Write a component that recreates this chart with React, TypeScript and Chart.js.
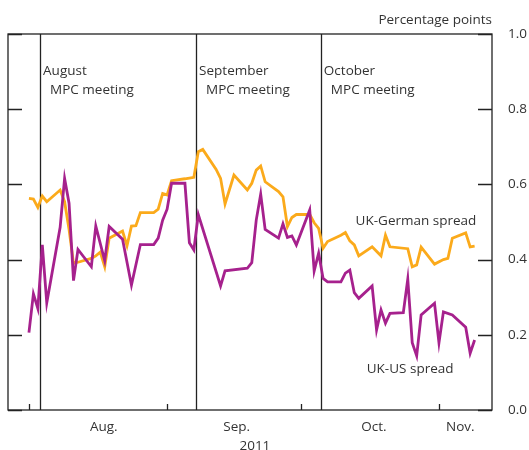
import React, { useEffect, useRef } from 'react';
import { Chart, registerables } from 'chart.js';

Chart.register(...registerables);

// Days counted from 1 August 2011 (day 0)
const ukUsDays = [0, 1, 2, 3, 4, 7, 8, 9, 10, 11, 14, 15, 17, 18, 21, 23, 25, 28, 29, 30, 31, 32, 35, 36, 37, 38, 43, 44, 49, 50, 51, 52, 53, 56, 57, 58, 59, 60, 63, 64, 65, 66, 67, 70, 71, 72, 73, 74, 77, 78, 79, 80, 81, 84, 85, 86, 87, 88, 91, 92, 93, 95, 98, 99, 100];
const ukUsValues = [0.206, 0.309, 0.27, 0.439, 0.285, 0.486, 0.616, 0.55, 0.344, 0.427, 0.381, 0.489, 0.397, 0.488, 0.454, 0.332, 0.44, 0.44, 0.457, 0.505, 0.534, 0.603, 0.603, 0.445, 0.426, 0.52, 0.33, 0.37, 0.377, 0.392, 0.505, 0.574, 0.48, 0.457, 0.495, 0.459, 0.463, 0.439, 0.532, 0.37, 0.417, 0.35, 0.341, 0.341, 0.364, 0.372, 0.312, 0.297, 0.33, 0.213, 0.266, 0.231, 0.257, 0.259, 0.348, 0.179, 0.144, 0.253, 0.284, 0.179, 0.261, 0.253, 0.22, 0.151, 0.186];

const ukGermanDays = [0, 1, 2, 3, 4, 7, 8, 9, 10, 11, 14, 15, 16, 17, 18, 21, 22, 23, 24, 25, 28, 29, 30, 31, 32, 35, 36, 37, 38, 39, 42, 43, 44, 46, 49, 50, 51, 52, 53, 56, 57, 58, 59, 60, 63, 64, 65, 66, 67, 70, 71, 72, 73, 74, 77, 79, 80, 81, 85, 86, 87, 88, 91, 93, 94, 95, 98, 99, 100];
const ukGermanValues = [0.563, 0.561, 0.539, 0.569, 0.554, 0.585, 0.554, 0.48, 0.39, 0.393, 0.403, 0.41, 0.42, 0.381, 0.457, 0.476, 0.437, 0.489, 0.49, 0.525, 0.525, 0.534, 0.576, 0.572, 0.61, 0.615, 0.617, 0.619, 0.687, 0.693, 0.64, 0.616, 0.548, 0.625, 0.585, 0.603, 0.638, 0.649, 0.607, 0.581, 0.567, 0.488, 0.512, 0.52, 0.52, 0.498, 0.483, 0.43, 0.448, 0.465, 0.472, 0.45, 0.439, 0.41, 0.434, 0.41, 0.465, 0.434, 0.429, 0.381, 0.386, 0.433, 0.388, 0.4, 0.403, 0.457, 0.471, 0.434, 0.436];

const yTicks = [0, 0.2, 0.4, 0.6, 0.8, 1.0];
const monthStartDays = [0, 31, 61, 92];
const monthLabels = ['Aug.', 'Sep.', 'Oct.', 'Nov.'];
const monthLabelDays = [16.8, 46.6, 77.4, 96.8];
const yearLabel = '2011';
const yearLabelDay = 50.7;

const mpcDays = [2.5, 37.5, 65.5];
const mpcLabels = ['August', 'September', 'October'];

const X_MIN = -4.7;
const X_MAX = 103.9;

const PURPLE = '#A6218D';
const ORANGE = '#FBAA1B';
const TEXT = '#333333';
const AXIS = '#222222';
const FONT = '"Open Sans", sans-serif';
const FONT_SIZE = 13.5;

const decorPlugin = {
  id: 'decor',
  beforeDatasetsDraw(chart: any) {
    const { ctx, chartArea: a, scales } = chart;
    const x = scales.x;
    ctx.save();
    ctx.strokeStyle = AXIS;
    ctx.lineWidth = 1.3;
    mpcDays.forEach((d) => {
      const px = Math.round(x.getPixelForValue(d)) + 0.5;
      ctx.beginPath();
      ctx.moveTo(px, a.top);
      ctx.lineTo(px, a.bottom);
      ctx.stroke();
    });
    ctx.restore();
  },
  afterDatasetsDraw(chart: any) {
    const { ctx, chartArea: a, scales } = chart;
    const x = scales.x;
    const y = scales.y;
    ctx.save();
    ctx.strokeStyle = AXIS;
    ctx.lineWidth = 1.3;
    ctx.strokeRect(a.left, a.top, a.right - a.left, a.bottom - a.top);
    yTicks.forEach((v) => {
      const py = Math.round(y.getPixelForValue(v)) + 0.5;
      ctx.beginPath();
      ctx.moveTo(a.left, py);
      ctx.lineTo(a.left + 14, py);
      ctx.moveTo(a.right - 14, py);
      ctx.lineTo(a.right, py);
      ctx.stroke();
    });
    monthStartDays.forEach((d) => {
      const px = Math.round(x.getPixelForValue(d)) + 0.5;
      ctx.beginPath();
      ctx.moveTo(px, a.bottom);
      ctx.lineTo(px, a.bottom - 6);
      ctx.stroke();
    });

    ctx.fillStyle = TEXT;
    ctx.font = `${FONT_SIZE}px ${FONT}`;
    ctx.textBaseline = 'middle';
    ctx.textAlign = 'center';
    monthLabels.forEach((t, i) => {
      ctx.fillText(t, x.getPixelForValue(monthLabelDays[i]), a.bottom + 17);
    });
    ctx.fillText(yearLabel, x.getPixelForValue(yearLabelDay), a.bottom + 36);

    ctx.textAlign = 'right';
    ctx.fillText('Percentage points', a.right, a.top - 14);

    ctx.textAlign = 'left';
    mpcDays.forEach((d, i) => {
      const px = x.getPixelForValue(d);
      ctx.fillText(mpcLabels[i], px + 3, y.getPixelForValue(0.902));
      ctx.fillText('MPC meeting', px + 10, y.getPixelForValue(0.851));
    });
    ctx.fillText('UK-German spread', x.getPixelForValue(73.3), y.getPixelForValue(0.501));
    ctx.fillText('UK-US spread', x.getPixelForValue(75.8), y.getPixelForValue(0.109));
    ctx.restore();
  },
};

export default function App() {
  const ref = useRef<HTMLCanvasElement>(null);
  useEffect(() => {
    const chart = new Chart(ref.current as HTMLCanvasElement, {
      type: 'line',
      data: {
        datasets: [
          {
            label: 'UK-US spread',
            data: ukUsDays.map((d, i) => ({ x: d, y: ukUsValues[i] })),
            borderColor: PURPLE,
            borderWidth: 2.8,
            pointRadius: 0,
            tension: 0,
            fill: false,
          },
          {
            label: 'UK-German spread',
            data: ukGermanDays.map((d, i) => ({ x: d, y: ukGermanValues[i] })),
            borderColor: ORANGE,
            borderWidth: 2.8,
            pointRadius: 0,
            tension: 0,
            fill: false,
          },
        ],
      },
      options: {
        responsive: false,
        animation: false,
        devicePixelRatio: 1,
        layout: { padding: { left: 8, top: 34, right: 0, bottom: 40 } },
        plugins: { legend: { display: false }, tooltip: { enabled: false } },
        scales: {
          x: { type: 'linear', min: X_MIN, max: X_MAX, display: false },
          y: {
            position: 'right',
            min: 0,
            max: 1,
            afterFit: (s: any) => {
              s.width = 37;
            },
            afterBuildTicks: (s: any) => {
              s.ticks = yTicks.map((v) => ({ value: v }));
            },
            grid: { display: false },
            border: { display: false },
            ticks: {
              padding: 8,
              color: TEXT,
              font: { family: FONT, size: FONT_SIZE },
              callback: (v: any) => Number(v).toFixed(1),
            },
          },
        },
      },
      plugins: [decorPlugin],
    });
    return () => chart.destroy();
  }, []);
  return (
    <div style={{ position: 'absolute', left: 0, top: 0, width: 529, height: 450, background: '#fff' }}>
      <canvas ref={ref} width={529} height={450} style={{ display: 'block' }} />
    </div>
  );
}
